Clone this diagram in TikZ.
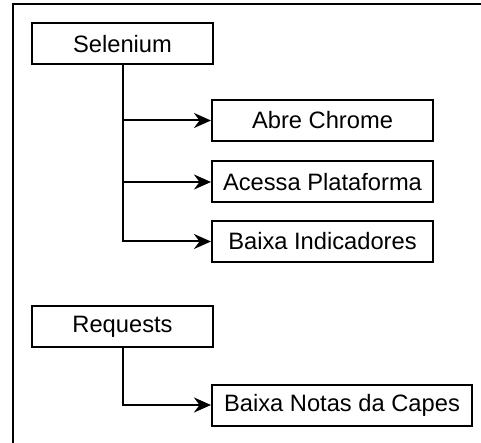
\documentclass[tikz,border=0pt]{standalone}
\usepackage{fontspec}
\setmainfont{Liberation Sans}
\usetikzlibrary{arrows.meta}

\begin{document}
\begin{tikzpicture}[x=1pt,y=-1pt,line width=2pt]
\clip (0,0) rectangle (481,443);
\draw (13,4.5) rectangle (495,460);

\begin{scope}[every node/.style={draw,rectangle,line width=2pt,minimum height=41pt,
              inner sep=0pt,font=\fontsize{23.7}{28}\selectfont}]
    \node[minimum width=181pt] (sel) at (122.5,44) {Selenium};
    \node[minimum width=221pt] (chrome) at (322.5,120.5) {Abre Chrome};
    \node[minimum width=221pt] (plat) at (322.5,182) {Acessa Plataforma};
    \node[minimum width=221pt] (ind) at (322.5,241.5) {Baixa Indicadores};
    \node[minimum width=181pt] (req) at (122.5,326.5) {Requests};
    \node[minimum width=260pt] (capes) at (342,405) {Baixa Notas da Capes};
\end{scope}

\begin{scope}[every path/.style={-{Stealth[length=17pt,width=15pt]}}]
    \draw (sel.south) |- (chrome);
    \draw (sel.south) |- (plat);
    \draw (sel.south) |- (ind);
    \draw (req.south) |- (capes);
\end{scope}
\end{tikzpicture}
\end{document}
